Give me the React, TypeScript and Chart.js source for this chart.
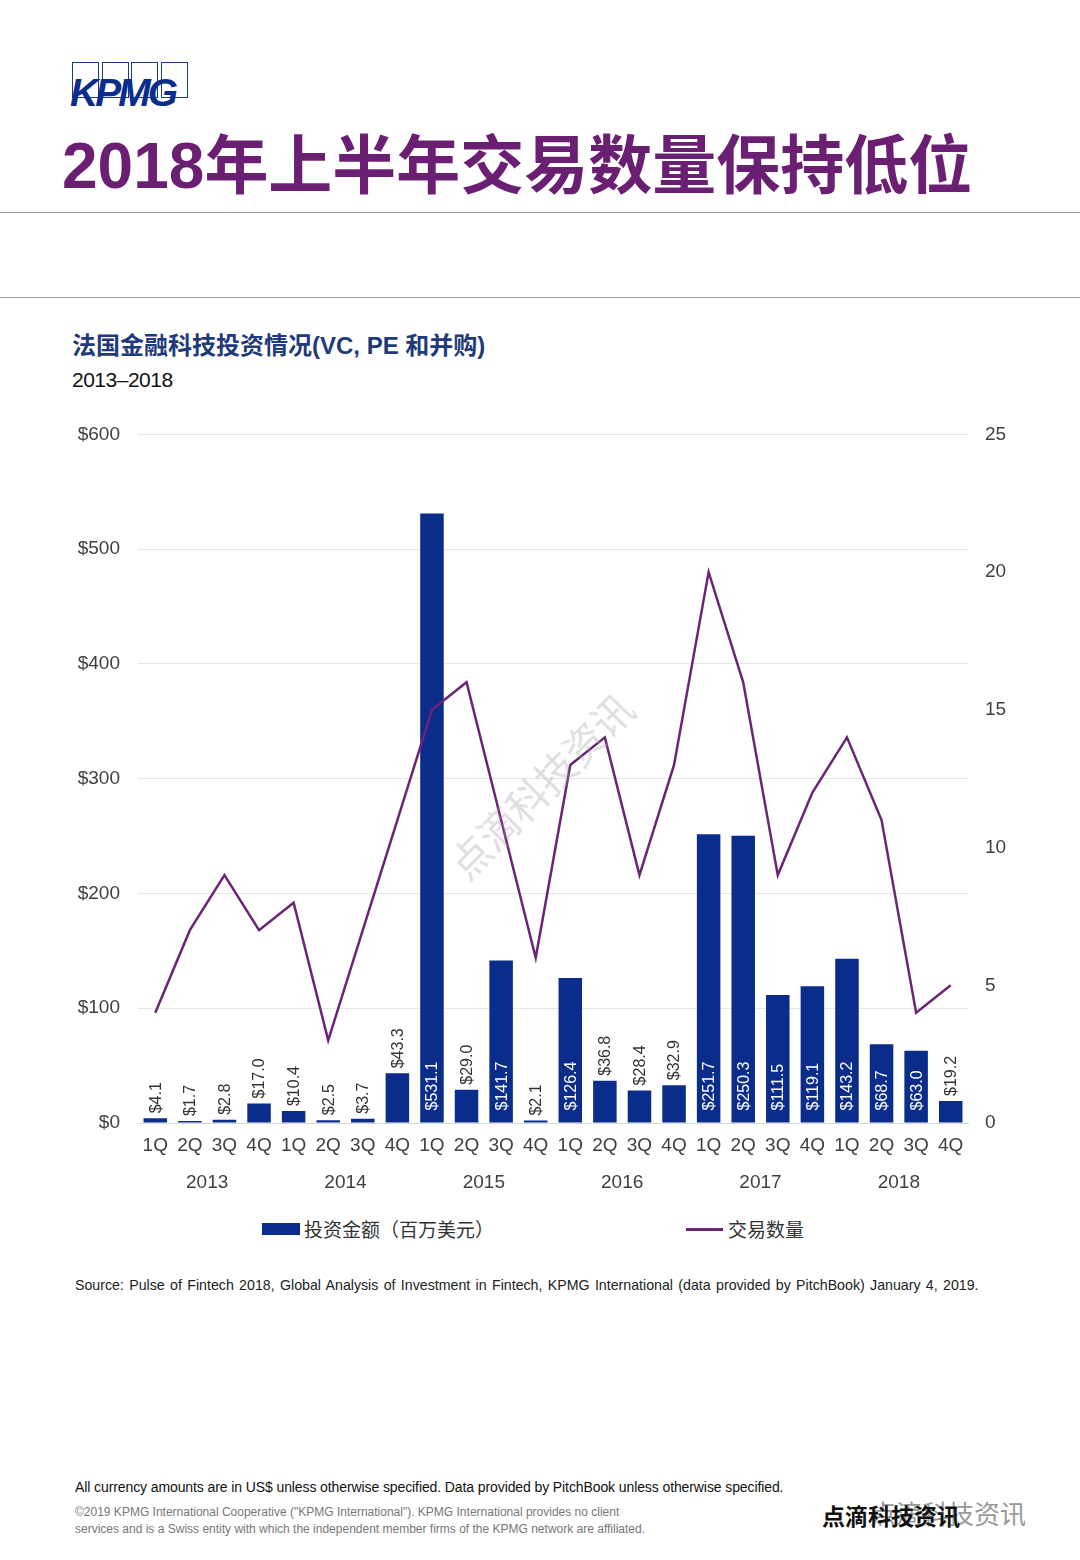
import React, { useEffect, useRef } from "react";
import { Chart, registerables } from "chart.js";

Chart.register(...registerables);

const quarters = [
  "1Q", "2Q", "3Q", "4Q", "1Q", "2Q", "3Q", "4Q", "1Q", "2Q", "3Q", "4Q",
  "1Q", "2Q", "3Q", "4Q", "1Q", "2Q", "3Q", "4Q", "1Q", "2Q", "3Q", "4Q",
];
const years = ["2013", "2014", "2015", "2016", "2017", "2018"];
const investment = [
  4.1, 1.7, 2.8, 17.0, 10.4, 2.5, 3.7, 43.3, 531.1, 29.0, 141.7, 2.1,
  126.4, 36.8, 28.4, 32.9, 251.7, 250.3, 111.5, 119.1, 143.2, 68.7, 63.0, 19.2,
];
const dealCount = [
  4, 7, 9, 7, 8, 3, 7, 11, 15, 16, 11, 6,
  13, 14, 9, 13, 20, 16, 9, 12, 14, 11, 4, 5,
];
const investmentLabel = "投资金额（百万美元）";
const dealLabel = "交易数量";

const BLUE = "#0A2D8C";
const PURPLE = "#6B2476";
const FONT = "'Liberation Sans', Arial, 'Noto Sans CJK SC', sans-serif";

const barLabelPlugin = {
  id: "barLabels",
  afterDatasetsDraw(chart: any) {
    const meta = chart.getDatasetMeta(0);
    const ctx = chart.ctx;
    ctx.save();
    ctx.font = `16px ${FONT}`;
    ctx.textBaseline = "middle";
    ctx.textAlign = "left";
    meta.data.forEach((el: any, i: number) => {
      const v = investment[i];
      const text = "$" + v.toFixed(1);
      const w = ctx.measureText(text).width;
      const h = el.base - el.y;
      let startY: number;
      if (h > w + 16) {
        ctx.fillStyle = "#ffffff";
        startY = el.base - 12;
      } else {
        ctx.fillStyle = "#333333";
        startY = el.y - 5;
      }
      ctx.save();
      ctx.translate(el.x + 1, startY);
      ctx.rotate(-Math.PI / 2);
      ctx.fillText(text, 0, 0);
      ctx.restore();
    });
    ctx.restore();
  },
};

function ChartBox() {
  const ref = useRef<HTMLCanvasElement | null>(null);
  useEffect(() => {
    if (!ref.current) return;
    const chart = new Chart(ref.current, {
      type: "bar",
      data: {
        labels: quarters,
        datasets: [
          {
            type: "bar",
            label: investmentLabel,
            data: investment,
            backgroundColor: BLUE,
            yAxisID: "y",
            xAxisID: "x",
            categoryPercentage: 1,
            barPercentage: 0.68,
            order: 2,
          },
          {
            type: "line",
            label: dealLabel,
            data: dealCount,
            borderColor: PURPLE,
            borderWidth: 2.5,
            pointRadius: 0,
            tension: 0,
            fill: false,
            yAxisID: "y1",
            xAxisID: "x",
            order: 1,
          },
        ] as any,
      },
      options: {
        animation: false,
        responsive: false,
        maintainAspectRatio: false,
        layout: { padding: { top: 13, bottom: 0, left: 0, right: 0 } },
        plugins: {
          legend: { display: false },
          tooltip: { enabled: false },
        },
        scales: {
          x: {
            type: "category",
            position: "bottom",
            offset: true,
            grid: { display: false, drawTicks: false },
            border: { display: true, color: "#d9d9d9", width: 1 },
            ticks: {
              color: "#404040",
              font: { size: 19, family: FONT },
              padding: 11,
              maxRotation: 0,
              autoSkip: false,
            },
            afterFit: (s: any) => { s.height = 40; },
          },
          x2: {
            type: "category",
            position: "bottom",
            labels: years,
            offset: true,
            grid: { display: false, drawTicks: false },
            border: { display: false },
            ticks: {
              color: "#404040",
              font: { size: 19, family: FONT },
              padding: 8,
              maxRotation: 0,
              autoSkip: false,
            },
            afterFit: (s: any) => { s.height = 50; },
          },
          y: {
            position: "left",
            min: 0,
            max: 600,
            ticks: {
              stepSize: 100,
              color: "#404040",
              font: { size: 19, family: FONT },
              padding: 18,
              callback: (v: any) => "$" + v,
            },
            grid: { color: "#e6e6e6", lineWidth: 1, drawTicks: false },
            border: { display: false },
            afterFit: (s: any) => { s.width = 138; },
          },
          y1: {
            position: "right",
            min: 0,
            max: 25,
            ticks: {
              stepSize: 5,
              color: "#404040",
              font: { size: 19, family: FONT },
              padding: 17,
            },
            grid: { display: false, drawTicks: false },
            border: { display: false },
            afterFit: (s: any) => { s.width = 112; },
          },
        },
      } as any,
      plugins: [barLabelPlugin],
    });
    return () => chart.destroy();
  }, []);
  return (
    <canvas
      ref={ref}
      width={1080}
      height={808}
      style={{ position: "absolute", left: 0, top: 405, width: 1080, height: 808 }}
    />
  );
}

export default function App() {
  const abs = (s: any) => ({ position: "absolute" as const, ...s });
  return (
    <div
      style={{
        position: "absolute",
        left: 0,
        top: 0,
        width: 1080,
        height: 1560,
        background: "#ffffff",
        overflow: "hidden",
        fontFamily: FONT,
      }}
    >
      {/* KPMG logo */}
      <div style={abs({ left: 72, top: 62, width: 118, height: 46 })}>
        {[0, 1, 2, 3].map((i) => (
          <div
            key={i}
            style={abs({
              left: i * 29.5,
              top: 0,
              width: 27,
              height: 36,
              border: "1.5px solid #1a3a8c",
              boxSizing: "border-box",
            })}
          />
        ))}
        <div
          style={abs({
            left: -2,
            top: 13,
            fontSize: 39,
            fontWeight: "bold",
            fontStyle: "italic",
            color: "#0A2D8C",
            fontFamily: "'Liberation Sans', Arial, sans-serif",
            letterSpacing: -3,
            lineHeight: "36px",
          })}
        >
          KPMG
        </div>
      </div>
      {/* Title */}
      <div
        style={abs({
          left: 62,
          top: 130,
          fontSize: 64,
          fontWeight: "bold",
          color: "#6B1F72",
          lineHeight: "72px",
          fontFamily: "'Liberation Sans', 'Noto Sans CJK SC', sans-serif",
          whiteSpace: "nowrap",
        })}
      >
        2018年上半年交易数量保持低位
      </div>
      <div style={abs({ left: 0, top: 212, width: 1080, height: 1, background: "#9a9a9a" })} />
      <div style={abs({ left: 0, top: 297, width: 1080, height: 1, background: "#9a9a9a" })} />
      {/* Chart subtitle */}
      <div
        style={abs({
          left: 72,
          top: 331,
          fontSize: 24,
          fontWeight: "bold",
          color: "#1F3A7A",
          lineHeight: "30px",
          whiteSpace: "nowrap",
          fontFamily: "'Liberation Sans', 'Noto Sans CJK SC', sans-serif",
        })}
      >
        法国金融科技投资情况(VC, PE 和并购)
      </div>
      <div
        style={abs({
          left: 72,
          top: 367,
          fontSize: 21,
          color: "#111111",
          lineHeight: "26px",
          letterSpacing: -0.5,
        })}
      >
        2013–2018
      </div>

      <ChartBox />

      {/* diagonal watermark */}
      <div
        style={abs({
          left: 420,
          top: 765,
          fontSize: 40,
          color: "rgba(160,160,160,0.35)",
          transform: "rotate(-45deg)",
          whiteSpace: "nowrap",
          fontFamily: "'Noto Sans CJK SC', sans-serif",
          pointerEvents: "none",
          lineHeight: "40px",
        })}
      >
        点滴科技资讯
      </div>

      {/* Legend */}
      <div style={abs({ left: 262, top: 1223, width: 38, height: 12, background: BLUE })} />
      <div
        style={abs({
          left: 304,
          top: 1216,
          fontSize: 19,
          color: "#333333",
          lineHeight: "26px",
          whiteSpace: "nowrap",
          fontFamily: "'Noto Sans CJK SC', sans-serif",
        })}
      >
        {investmentLabel}
      </div>
      <div style={abs({ left: 686, top: 1228, width: 37, height: 3, background: PURPLE })} />
      <div
        style={abs({
          left: 728,
          top: 1216,
          fontSize: 19,
          color: "#333333",
          lineHeight: "26px",
          whiteSpace: "nowrap",
          fontFamily: "'Noto Sans CJK SC', sans-serif",
        })}
      >
        {dealLabel}
      </div>

      {/* Source */}
      <div
        style={abs({
          left: 75,
          top: 1276,
          fontSize: 14.2,
          color: "#222222",
          lineHeight: "18px",
          whiteSpace: "nowrap",
          wordSpacing: 1.4,
        })}
      >
        Source: Pulse of Fintech 2018, Global Analysis of Investment in Fintech, KPMG International (data provided by PitchBook) January 4, 2019.
      </div>

      {/* Footer */}
      <div
        style={abs({
          left: 75,
          top: 1478,
          fontSize: 14,
          color: "#111111",
          lineHeight: "18px",
          whiteSpace: "nowrap",
          letterSpacing: -0.1,
        })}
      >
        All currency amounts are in US$ unless otherwise specified. Data provided by PitchBook unless otherwise specified.
      </div>
      <div
        style={abs({
          left: 75,
          top: 1504,
          fontSize: 12,
          color: "#777777",
          lineHeight: "17px",
          whiteSpace: "nowrap",
        })}
      >
        ©2019 KPMG International Cooperative ("KPMG International"). KPMG International provides no client
        <br />
        services and is a Swiss entity with which the independent member firms of the KPMG network are affiliated.
      </div>
      <div
        style={abs({
          left: 870,
          top: 1498,
          fontSize: 26,
          color: "#9a9a9a",
          lineHeight: "30px",
          whiteSpace: "nowrap",
          fontFamily: "'Noto Sans CJK SC', sans-serif",
        })}
      >
        点滴科技资讯
      </div>
      <div
        style={abs({
          left: 822,
          top: 1500,
          fontSize: 23,
          fontWeight: "bold",
          color: "#111111",
          lineHeight: "30px",
          whiteSpace: "nowrap",
          fontFamily: "'Noto Sans CJK SC', sans-serif",
        })}
      >
        点滴科技资讯
      </div>
    </div>
  );
}
